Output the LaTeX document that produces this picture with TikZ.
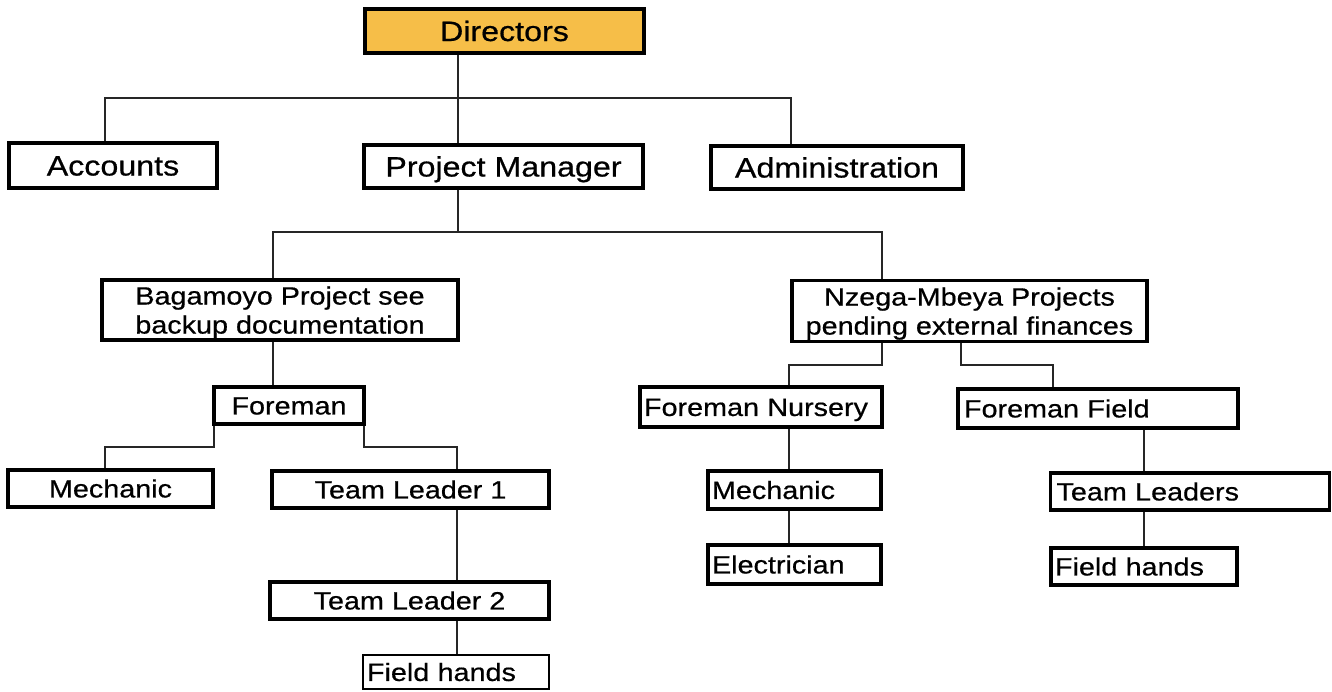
\documentclass[tikz,border=0pt]{standalone}
\usepackage{fontspec}
\setmainfont{Liberation Sans}[FakeStretch=1.15,FakeBold=0.6]
\definecolor{dirfill}{RGB}{246,190,72}
\tikzset{
  frame/.style={draw=black, line width=3.2pt, inner sep=0pt, align=center,
    font=\fontsize{25}{29}\selectfont},
  box/.style={frame, text height=17.9pt, text depth=0pt},
  big/.style={font=\fontsize{28}{32}\selectfont, text height=20pt},
  lbox/.style={box, align=left, inner xsep=4pt},
  conn/.style={draw=black!85, line width=1.2pt},
}
\begin{document}
\begin{tikzpicture}[x=1pt,y=-1pt]
\useasboundingbox (0,0) rectangle (1332,691);
% nodes
\node[box,big,fill=dirfill,minimum width=279pt,minimum height=44pt] (dir) at (504.5,31) {Directors};
\node[box,big,minimum width=208pt,minimum height=45pt] (acc) at (113,165.5) {Accounts};
\node[box,big,minimum width=279pt,minimum height=43pt] (pm) at (503.5,166.5) {Project Manager};
\node[box,big,minimum width=252pt,minimum height=43pt] (adm) at (837,167.5) {Administration};
\node[frame,text depth=0pt,minimum width=356pt,minimum height=60pt] (bag) at (280,310) {Bagamoyo Project see\\backup documentation};
\node[frame,text depth=0pt,minimum width=355pt,minimum height=61pt] (nz) at (969.5,311) {Nzega-Mbeya Projects\\pending external finances};
\node[box,minimum width=150pt,minimum height=37pt] (fo) at (289,405.5) {Foreman};
\node[box,minimum width=205pt,minimum height=37pt] (mechL) at (110.5,488.5) {Mechanic};
\node[box,minimum width=277pt,minimum height=37pt] (tl1) at (410.5,489.5) {Team Leader 1};
\node[box,minimum width=279pt,minimum height=37pt] (tl2) at (409.5,600.5) {Team Leader 2};
\node[lbox,line width=1.6pt,text width=178pt,minimum height=34pt] (fhL) at (456,672) {Field hands};
\node[lbox,text width=234pt,minimum height=40pt] (fn) at (761,407) {Foreman Nursery};
\node[lbox,text width=165pt,minimum height=38pt] (mechR) at (794.5,490) {Mechanic};
\node[lbox,text width=165pt,minimum height=39pt] (elec) at (794.5,564.5) {Electrician};
\node[lbox,inner xsep=6pt,text width=268pt,minimum height=39pt] (ff) at (1098,408.5) {Foreman Field};
\node[lbox,inner xsep=6pt,text width=267pt,minimum height=37pt] (tls) at (1190,491.5) {Team Leaders};
\node[lbox,text width=178pt,minimum height=37pt] (fhR) at (1144,566.5) {Field hands};
% coordinates
\coordinate (bus1) at (458,98);
\coordinate (xAcc) at (105,98);
\coordinate (xAdm) at (791,98);
\coordinate (pmOut) at (458,232);
\coordinate (xBag) at (273,232);
\coordinate (xNz) at (882,232);
\coordinate (fL) at (214,447);
\coordinate (fML) at (105,447);
\coordinate (fR) at (364,447);
\coordinate (fT) at (457,447);
\coordinate (n1) at (882,365);
\coordinate (n1b) at (789,365);
\coordinate (n2) at (961,365);
\coordinate (n2b) at (1053,365);
\coordinate (xF) at (1144,0);
% connectors
\draw[conn] (dir.south -| bus1) -- (pm.north -| bus1);
\draw[conn] (acc.north -| xAcc) -- (xAcc) -- (xAdm) -- (adm.north -| xAdm);
\draw[conn] (pm.south -| pmOut) -- (pmOut);
\draw[conn] (bag.north -| xBag) -- (xBag) -- (xNz) -- (nz.north -| xNz);
\draw[conn] (bag.south -| xBag) -- (fo.north -| xBag);
\draw[conn] (fo.south -| fL) -- (fL) -- (fML) -- (mechL.north -| fML);
\draw[conn] (fo.south -| fR) -- (fR) -- (fT) -- (tl1.north -| fT);
\draw[conn] (tl1.south -| fT) -- (tl2.north -| fT);
\draw[conn] (tl2.south -| fT) -- (fhL.north -| fT);
\draw[conn] (nz.south -| n1) -- (n1) -- (n1b) -- (fn.north -| n1b);
\draw[conn] (nz.south -| n2) -- (n2) -- (n2b) -- (ff.north -| n2b);
\draw[conn] (fn.south -| n1b) -- (mechR.north -| n1b);
\draw[conn] (mechR.south -| n1b) -- (elec.north -| n1b);
\draw[conn] (ff.south -| xF) -- (tls.north -| xF);
\draw[conn] (tls.south -| xF) -- (fhR.north -| xF);
\end{tikzpicture}
\end{document}
